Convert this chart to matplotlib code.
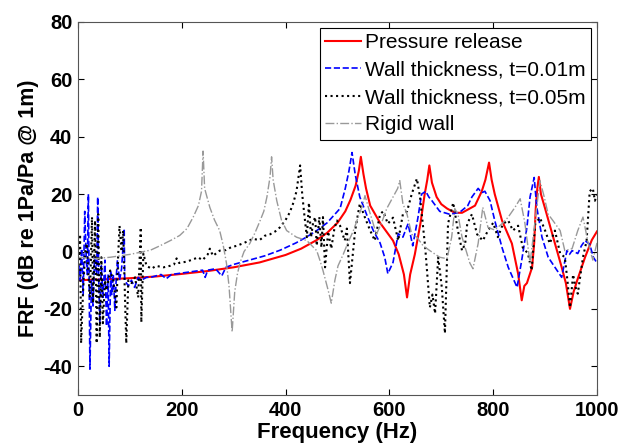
import numpy as np
import matplotlib
matplotlib.use("Agg")
import matplotlib.pyplot as plt

plt.rcParams['font.family'] = ['Liberation Sans', 'DejaVu Sans']
plt.rcParams['axes.unicode_minus'] = False

# Pressure release
f_red = [0, 50, 100, 150, 200, 250, 300, 350, 400, 430, 460, 480, 500, 515, 525,
         535, 541, 545, 550, 555, 563, 582, 607, 618, 628, 634, 640, 649, 660, 668,
         673, 677, 682, 691, 700, 711, 726, 740, 755, 765, 778, 785, 792, 797, 803,
         817, 836, 848, 855, 860, 865, 875, 879, 882, 885, 888, 892, 900, 919, 932,
         940, 948, 955, 962, 977, 990, 1000]
v_red = [-10, -9.7, -9.3, -8.7, -7.8, -6.8, -5.5, -3.8, -1.2, 1, 4, 6.5, 10, 14, 18,
         23, 28, 33, 27, 22, 16, 10, 3.8, -1, -8, -16, -8, -1, 10, 20,
         25, 30, 24, 19, 16.5, 15, 13.5, 13.5, 15, 16, 21, 25, 31, 25, 20,
         10.8, 2.8, -7.7, -17, -12, -11, -5.5, 3, 15, 22, 26, 20, 15, 2.8, -5.5,
         -11, -20, -14, -10, -2, 4, 7]

# Wall thickness t=0.01m
f_blue = [0, 2, 4, 7, 10, 13, 16, 18, 20, 23, 26, 29, 32, 36, 38, 40, 42, 45, 48,
          52, 55, 58, 60, 63, 65, 68, 71, 74, 76, 80, 84, 89, 90, 97, 103, 109, 116,
          122, 132, 140, 160, 170, 180, 200, 220, 240, 245, 250, 265, 277, 285, 300,
          330, 360, 390, 420, 440, 460, 480, 495, 505, 515, 522, 528, 534, 543, 557,
          569, 582, 591, 597, 607, 617, 626, 636, 645, 655, 662, 670, 676, 682, 697,
          716, 735, 751, 759, 771, 778, 784, 794, 803, 817, 829, 846, 855, 865, 871,
          879, 884, 894, 906, 919, 932, 942, 947, 952, 963, 970, 977, 986, 993, 1000]
v_blue = [-10, -5, -10, 1, -15, 14, -3, -8, 20, -41, -10, -19, -2, -8, 19, -10, -25, -5, -16,
          -3, -26, -8, -40, -6.6, -15, -8, -20.5, -8, -3, -10, -6, 8, -10, -12, -10, -12.5, -9,
          -10, -9, -9, -8, -9.5, -8, -7.5, -7, -6.5, -9, -6.5, -6, -8.5, -5.5, -4.5,
          -3, -1.5, 0.5, 3, 5, 7.3, 10, 13, 15, 22, 28, 34.5, 27, 19, 12.5,
          7.3, 3, -2, -7.7, -3.8, 6.2, 5, 9.7, 2, 11.8, 20, 21, 19, 17.7, 14,
          13, 13.6, 16, 19, 22, 20.5, 21, 17.7, 10.8, 1.4, -5.5, -12.5, -3, 8.4, 19,
          25.8, 15.4, 5, -2, -5.5, -9, 0.3, -1, 0.3, -0.7, 2, 3.8, 2.5, -2, -4]

# Wall thickness t=0.05m
f_black = [0, 4, 6, 10, 14, 17, 20, 23, 27, 29, 33, 36, 39, 42, 45, 48, 52, 55, 62,
           68, 74, 77, 80, 84, 87, 90, 93, 97, 103, 110, 116, 121, 122, 126, 132, 142,
           150, 165, 177, 185, 190, 195, 210, 225, 231, 240, 250, 254, 260, 273, 285,
           295, 306, 320, 337, 350, 360, 370, 380, 389, 400, 408, 415, 421, 428, 432,
           436, 441, 445, 449, 453, 457, 460, 465, 469, 472, 476, 482, 488, 494, 499,
           505, 510, 514, 518, 524, 534, 543, 553, 563, 572, 582, 588, 597, 607, 617,
           626, 634, 643, 653, 659, 669, 674, 678, 683, 688, 694, 701, 707, 713, 723,
           732, 740, 746, 750, 759, 769, 780, 790, 800, 809, 819, 829, 838, 848, 857,
           867, 874, 881, 890, 900, 909, 919, 929, 938, 943, 948, 954, 958, 963, 973,
           980, 986, 992, 996, 1000]
v_black = [-5, 6, -32, -12.5, 0, 2.8, -8, -16, 12, -18, 10.8, -32, 13, -30, -2, -25, -10, -13.5, -6.6,
           -10, -19.5, -3, 9, 0, 7.3, -12.5, -32, -10, -11, -9, -16, 8.4, -24.7, -0.7, -5, -6,
           -5, -5.5, -5, -4.5, -2.4, -4, -3.5, -2.5, -2, -3, -1, 1, -1.5, 0.3, 0.5,
           1.5, 2, 3, 4.4, 4, 5.5, 6, 7, 8.4, 11, 13.6, 17, 21, 30, 20,
           13, 5, 17, 5, 10, 12, 2, 12, 1.4, 12, -5.5, 7, 1, 8, 10.8,
           9, 6, 3.8, 8, -11, 7.3, 16.7, 11.8, 7.3, 3.8, 13, 14, 9.7, 11.8, 3.8,
           13, 14, 20, 25.4, 19, 1.4, -10, -19.5, -15, -21.6, -2, -12.5, -28.5, 9.7, 17,
           7.3, 0.3, 2.8, 9.7, 13, 6, 3.8, 7.3, 10, 5, 9.7, 10.8, 7.3, 9, 1.4,
           -0.7, -6.6, 9.7, 11.8, 7.3, 2.8, 7.3, -0.7, -2, -10, -19.5, -8, -12, -14.7, -2,
           3.8, 21, 22, 17.7, 20]

# Rigid wall
f_gray = [0, 30, 62, 100, 119, 140, 158, 180, 196, 210, 222, 232, 238, 241, 244, 254,
          263, 273, 280, 286, 291, 297, 302, 307, 312, 320, 331, 341, 351, 358, 364,
          370, 373, 376, 383, 392, 402, 421, 441, 460, 466, 472, 482, 488, 495, 501,
          511, 520, 530, 540, 548, 553, 560, 575, 585, 595, 607, 616, 620, 626, 634,
          643, 653, 665, 678, 697, 711, 720, 726, 732, 740, 746, 755, 761, 771, 780,
          790, 803, 817, 829, 842, 852, 861, 871, 881, 890, 897, 906, 915, 929, 938,
          952, 963, 973, 983, 992, 1000]
v_gray = [-2, -2.5, -2, -1, -0.3, 0.5, 2, 4, 5.6, 8, 12, 16, 21, 35, 22, 15.4,
          11, 7.3, 2, -4, -12, -28, -14, -8, -4, 0, 2.8, 6.5, 10.8, 14, 19,
          26, 33, 25, 17.7, 11, 7.3, 5, 3.8, 0.3, -3, -6.6, -13.5, -18, -10, -5,
          -1, 3, 7, 12, 16, 19.5, 15, 6, 10, 15, 19, 22, 24.7, 16.7, 13,
          6, 5, 2, 0.3, -2, -2.5, 5, 15, 13, 5, 1.4, -4, -6, 2.8, 15.4,
          8.4, 7.5, 9.7, 12, 15.4, 18.4, 10, -4, 11, 24.7, 20, 13, 10.8, 7.3, 0.3,
          1, 7.3, 12, 3, -3, 3]

fig = plt.figure(figsize=(6.3, 4.45), dpi=100)
ax = fig.add_axes([0.1238, 0.1124, 0.8238, 0.8382])

ax.plot(f_red, v_red, '-', color='red', lw=1.5, label='Pressure release')
ax.plot(f_blue, v_blue, '--', color='blue', lw=1.2, label='Wall thickness, t=0.01m')
ax.plot(f_black, v_black, ':', color='black', lw=1.5, label='Wall thickness, t=0.05m')
ax.plot(f_gray, v_gray, '-.', color='#999999', lw=1.0, label='Rigid wall')

ax.set_xlim(0, 1000)
ax.set_ylim(-50, 80)
ax.set_xticks([0, 200, 400, 600, 800, 1000])
ax.set_yticks([-40, -20, 0, 20, 40, 60, 80])
ax.tick_params(direction='in', top=True, right=True, length=4, labelsize=14.5, pad=4)
for lab in ax.get_xticklabels() + ax.get_yticklabels():
    lab.set_fontweight('bold')
for s in ax.spines.values():
    s.set_color('#555555')

ax.set_xlabel('Frequency (Hz)', fontsize=16, fontweight='bold', labelpad=2)
ax.set_ylabel('FRF (dB re 1Pa/Pa @ 1m)', fontsize=15.5, fontweight='bold', labelpad=3)

leg = ax.legend(loc='upper right', fontsize=15, fancybox=False, framealpha=1,
                edgecolor='black', handlelength=1.7, handletextpad=0.2,
                labelspacing=0.4, borderpad=0.25, borderaxespad=0.3)
leg.get_frame().set_linewidth(0.8)

fig.savefig('out.png', dpi=100)
